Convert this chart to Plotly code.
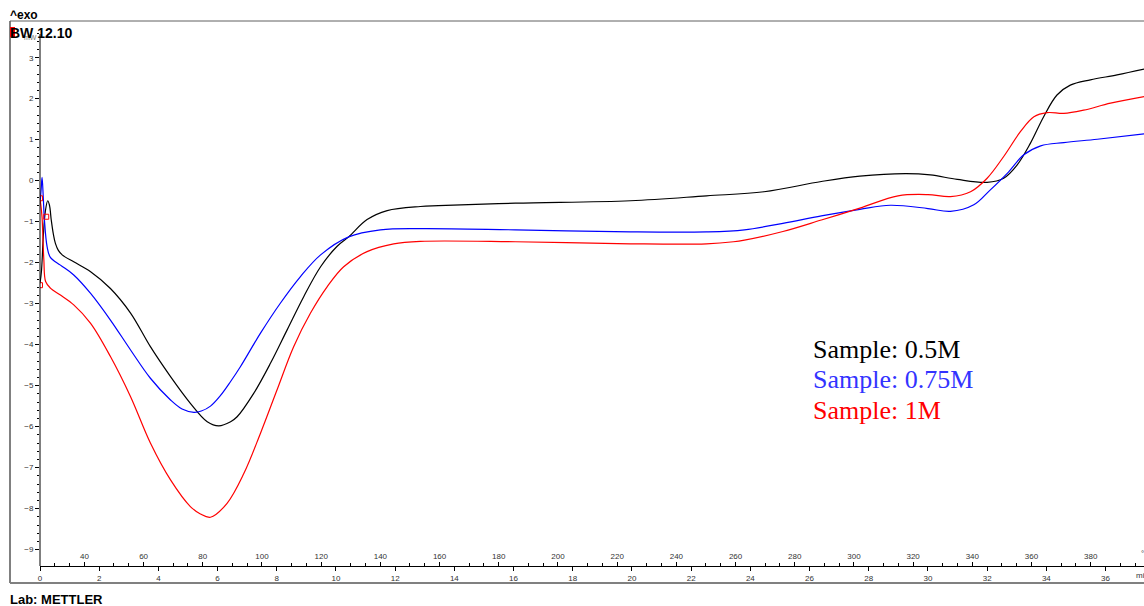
import plotly.graph_objects as go

# DSC heat flow curves (time in min, heat flow in mW), exo up
time_05 = [0.0, 0.05, 0.11, 0.18, 0.26, 0.32, 0.38, 0.45, 0.52, 0.62, 0.75, 1.14, 1.71,
           2.38, 3.06, 3.73, 4.41, 5.08, 5.65, 6.04, 6.44, 6.66, 7.22, 7.79, 8.35, 8.91,
           9.48, 10.04, 10.43, 11.05, 11.73, 12.85, 13.46, 16.06, 19.95, 22.52, 24.46,
           26.4, 27.7, 29.24, 30.08, 30.99, 32.0, 32.56, 33.01, 33.46, 33.91, 34.36,
           34.81, 35.49, 36.39, 37.31]
hf_05 = [-2.50, -2.2, -1.37, -0.75, -0.49, -0.6, -0.96, -1.3, -1.53, -1.7, -1.81, -1.98,
         -2.22, -2.63, -3.23, -4.05, -4.78, -5.43, -5.88, -5.98, -5.88, -5.76, -5.19,
         -4.45, -3.64, -2.83, -2.10, -1.60, -1.37, -0.95, -0.73, -0.63, -0.61, -0.55,
         -0.49, -0.37, -0.27, -0.02, 0.11, 0.17, 0.14, 0.03, -0.04, 0.06, 0.38, 0.91,
         1.56, 2.09, 2.33, 2.46, 2.58, 2.72]

time_075 = [0.0, 0.04, 0.07, 0.11, 0.15, 0.24, 0.35, 0.69, 1.14, 1.71, 2.38, 3.06, 3.73,
            4.41, 4.8, 5.20, 5.45, 5.76, 6.10, 6.44, 6.77, 7.45, 8.12, 8.80, 9.48, 10.43,
            11.50, 12.85, 16.06, 19.95, 22.52, 23.8, 25.1, 26.4, 27.7, 28.73, 30.0, 30.76,
            31.55, 32.1, 32.68, 33.24, 33.81, 34.59, 35.72, 37.31]
hf_075 = [-0.55, -0.2, 0.08, -0.4, -0.96, -1.61, -1.87, -2.06, -2.30, -2.75, -3.40, -4.13,
          -4.82, -5.35, -5.57, -5.65, -5.62, -5.50, -5.24, -4.90, -4.54, -3.72, -2.99,
          -2.34, -1.81, -1.37, -1.20, -1.17, -1.20, -1.25, -1.25, -1.20, -1.04, -0.86,
          -0.70, -0.60, -0.68, -0.75, -0.59, -0.23, 0.18, 0.63, 0.85, 0.93, 1.01, 1.14]

time_1 = [0.0, 0.03, 0.07, 0.13, 0.19, 0.35, 0.69, 1.14, 1.71, 2.38, 3.06, 3.73, 4.41,
          5.08, 5.42, 5.76, 6.32, 6.89, 7.45, 8.01, 8.57, 9.14, 9.70, 10.26, 11.05, 11.95,
          12.85, 16.06, 19.95, 22.52, 23.43, 23.8, 25.1, 26.4, 27.7, 28.99, 30.0, 30.76,
          31.44, 32.0, 32.56, 33.13, 33.58, 34.03, 34.59, 35.26, 36.17, 37.31]
hf_1 = [-0.45, -0.6, -0.9, -1.93, -2.46, -2.62, -2.79, -3.03, -3.48, -4.29, -5.27, -6.40,
        -7.30, -7.95, -8.13, -8.21, -7.87, -7.14, -6.16, -5.10, -4.05, -3.23, -2.59, -2.10,
        -1.73, -1.54, -1.48, -1.49, -1.54, -1.54, -1.49, -1.45, -1.24, -0.96, -0.67, -0.37,
        -0.34, -0.39, -0.27, 0.06, 0.59, 1.20, 1.56, 1.66, 1.64, 1.72, 1.89, 2.05]

# evaluation marks on the 1M curve
mark_time = [0.0, 0.0, 0.21]
mark_hf = [-0.43, -2.55, -0.88]

series_names = ["Sample: 0.5M", "Sample: 0.75M", "Sample: 1M"]
line_colors = ["#000000", "#0000ff", "#ff0000"]
text_colors = ["#000000", "#3333ff", "#ff0000"]

y_ticks = list(range(-9, 4))
time_ticks = list(range(0, 37, 2))
temp_ticks = list(range(40, 381, 20))
temp_start, heat_rate = 25, 10  # degC, K/min

W, H = 1144, 606
ML, MR, MT, MB = 40, 0, 21, 40
t_range = [0, 37.3]
hf_range = [-9.4, 3.895]
temp_range = [temp_start + heat_rate * t for t in t_range]


def xp(px):
    return (px - ML) / (W - ML - MR)


def yp(py):
    return (H - MB - py) / (H - MT - MB)


fig = go.Figure()
for t, v, c, n in zip([time_05, time_075, time_1], [hf_05, hf_075, hf_1],
                      line_colors, series_names):
    fig.add_trace(go.Scatter(x=t, y=v, mode="lines", name=n,
                             line=dict(color=c, width=1.2, shape="spline", smoothing=1.0),
                             showlegend=False, hoverinfo="skip"))
fig.add_trace(go.Scatter(x=mark_time, y=mark_hf, mode="markers", showlegend=False,
                         marker=dict(symbol="square-open", size=5, color="#ff0000",
                                     line=dict(width=1)), hoverinfo="skip"))
# carrier for the temperature scale
fig.add_trace(go.Scatter(x=temp_range, y=[None, None], xaxis="x2", mode="lines",
                         showlegend=False, hoverinfo="skip"))

tick_font = dict(family="Liberation Sans", size=8, color="#333333")
time_minor = [i * 0.5 for i in range(0, 75) if i % 4 != 0]
hf_minor = [round(-9.2 + 0.2 * i, 1) for i in range(0, 65)]
hf_minor = [v for v in hf_minor if abs(v - round(v)) > 1e-6]

fig.update_layout(
    width=W, height=H,
    margin=dict(l=ML, r=MR, t=MT, b=MB),
    paper_bgcolor="white", plot_bgcolor="white",
    xaxis=dict(range=t_range, tickvals=time_ticks, ticks="outside", ticklen=4,
               tickcolor="black", tickfont=tick_font, showgrid=False, zeroline=False,
               showline=True, linecolor="black", linewidth=1,
               minor=dict(tickmode="array", tickvals=time_minor, ticks="inside",
                          ticklen=3, tickcolor="black")),
    xaxis2=dict(range=temp_range, overlaying="x", anchor="y", side="bottom",
                tickvals=temp_ticks, ticks="inside", ticklen=4, tickcolor="black",
                ticklabelposition="inside", tickfont=tick_font, showgrid=False,
                zeroline=False, showline=False),
    yaxis=dict(range=hf_range, tickvals=y_ticks, ticks="outside", ticklen=4,
               tickcolor="black", tickfont=tick_font, showgrid=False, zeroline=False,
               showline=False,
               minor=dict(tickmode="array", tickvals=hf_minor, ticks="outside",
                          ticklen=2, tickcolor="black")),
)

shapes = [
    # y axis line
    dict(type="line", xref="paper", yref="paper", x0=0, x1=0, y0=0, y1=yp(34),
         line=dict(color="black", width=1)),
    # outer frame
    dict(type="line", xref="paper", yref="paper", x0=xp(10), x1=xp(10),
         y0=yp(583), y1=yp(21), line=dict(color="#808080", width=2)),
    dict(type="line", xref="paper", yref="paper", x0=xp(10), x1=1.01,
         y0=yp(21), y1=yp(21), line=dict(color="#606060", width=1)),
    dict(type="line", xref="paper", yref="paper", x0=xp(10), x1=1.01,
         y0=yp(583), y1=yp(583), line=dict(color="#808080", width=2)),
    # curve colour marker in the header
    dict(type="rect", xref="paper", yref="paper", x0=xp(10), x1=xp(15),
         y0=yp(37), y1=yp(27), fillcolor="#ff0000", line=dict(width=0)),
]
fig.update_layout(shapes=shapes)

hdr = dict(family="Liberation Sans", color="black")
annotations = [
    dict(text="<b>^exo</b>", x=xp(8), y=yp(15), font=dict(size=12, **hdr)),
    dict(text="mW", x=xp(22), y=yp(38), font=dict(family="Liberation Sans", size=7,
                                                   color="#777777")),
    dict(text="<b>BW 12.10</b>", x=xp(8), y=yp(33), font=dict(size=14, **hdr)),
    dict(text="<b>Lab: METTLER</b>", x=xp(8), y=yp(600), font=dict(size=13, **hdr)),
    dict(text="°C", x=xp(1139), y=yp(553), font=tick_font),
    dict(text="min", x=xp(1134), y=yp(576), font=tick_font),
]
for i, (name, col) in enumerate(zip(series_names, text_colors)):
    annotations.append(dict(text=name, x=xp(811), y=yp(349 + 30.5 * i),
                            font=dict(family="Liberation Serif", size=26, color=col)))
for a in annotations:
    a.update(xref="paper", yref="paper", xanchor="left", yanchor="middle",
             showarrow=False)
fig.update_layout(annotations=annotations)

fig.write_html("out.html")
